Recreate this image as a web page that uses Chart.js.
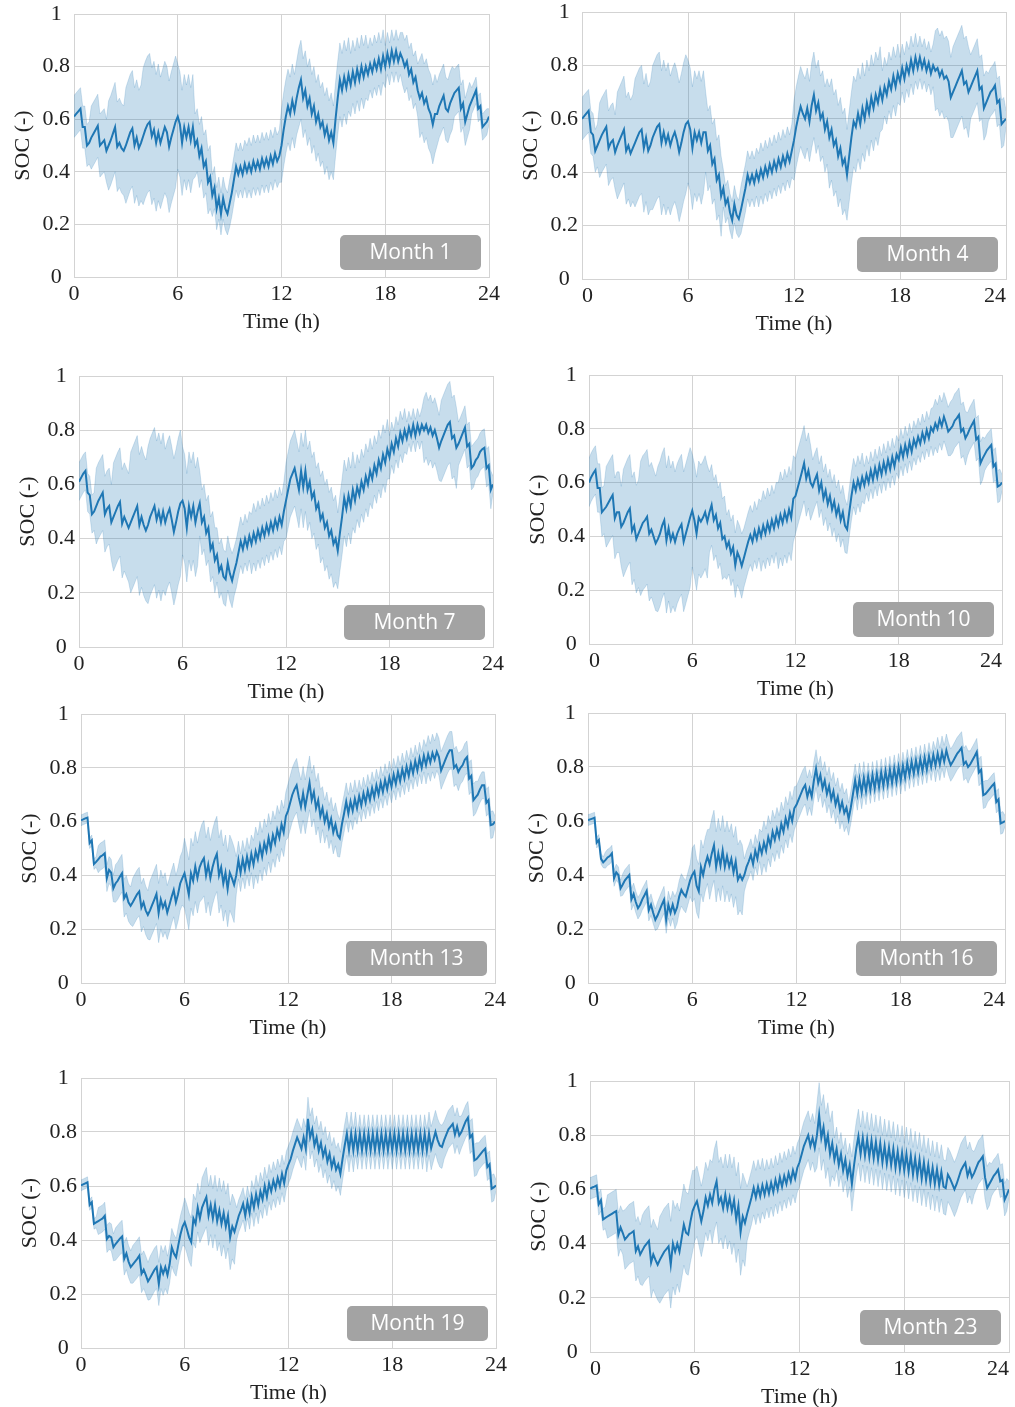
<!DOCTYPE html>
<html>
<head>
<meta charset="utf-8">
<script src="https://cdn.jsdelivr.net/npm/chart.js@4.4.1/dist/chart.umd.min.js"></script>
<style>
  html, body { margin: 0; padding: 0; background: #fff; overflow: hidden; width: 1015px; height: 1407px; }
  canvas { position: absolute; }
</style>
</head>
<body>
<script>
// mean SOC, one value every 1/8 h (8 per row = one hour), last value is 24 h
const socM1 = [
  0.61, 0.62, 0.63, 0.64, 0.57, 0.57, 0.50, 0.51,
  0.53, 0.545, 0.56, 0.575, 0.50, 0.51, 0.52, 0.48,
  0.50, 0.52, 0.545, 0.57, 0.495, 0.51, 0.49, 0.48,
  0.50, 0.525, 0.55, 0.565, 0.50, 0.53, 0.49, 0.51,
  0.535, 0.56, 0.58, 0.59, 0.535, 0.56, 0.51, 0.55,
  0.51, 0.54, 0.57, 0.55, 0.495, 0.53, 0.56, 0.59,
  0.61, 0.58, 0.51, 0.57, 0.53, 0.57, 0.52, 0.57,
  0.50, 0.52, 0.46, 0.49, 0.42, 0.44, 0.36, 0.38,
  0.31, 0.34, 0.26, 0.30, 0.24, 0.30, 0.26, 0.24,
  0.28, 0.32, 0.37, 0.42, 0.39, 0.42, 0.39, 0.43,
  0.40, 0.43, 0.40, 0.44, 0.41, 0.44, 0.41, 0.45,
  0.42, 0.45, 0.42, 0.46, 0.43, 0.47, 0.44, 0.46,
  0.50, 0.56, 0.61, 0.65, 0.62, 0.67, 0.63, 0.68,
  0.72, 0.75, 0.68, 0.71, 0.65, 0.68, 0.62, 0.65,
  0.59, 0.62, 0.57, 0.59, 0.54, 0.57, 0.52, 0.55,
  0.51, 0.60, 0.68, 0.75, 0.71, 0.76, 0.72, 0.77,
  0.73, 0.78, 0.74, 0.79, 0.75, 0.80, 0.76, 0.80,
  0.77, 0.81, 0.78, 0.82, 0.79, 0.83, 0.79, 0.84,
  0.80, 0.85, 0.81, 0.86, 0.82, 0.86, 0.82, 0.85,
  0.83, 0.80, 0.82, 0.77, 0.79, 0.74, 0.76, 0.71,
  0.68, 0.70, 0.66, 0.68, 0.64, 0.62, 0.58, 0.62,
  0.62, 0.65, 0.67, 0.69, 0.64, 0.63, 0.66, 0.68,
  0.70, 0.71, 0.72, 0.64, 0.66, 0.59, 0.62, 0.65,
  0.67, 0.69, 0.71, 0.64, 0.65, 0.57, 0.58, 0.59,
  0.61
];
const socM4 = [
  0.60, 0.61, 0.62, 0.63, 0.55, 0.54, 0.48, 0.50,
  0.52, 0.54, 0.555, 0.57, 0.49, 0.51, 0.52, 0.475,
  0.50, 0.52, 0.54, 0.56, 0.48, 0.50, 0.47, 0.49,
  0.51, 0.53, 0.55, 0.56, 0.49, 0.53, 0.48, 0.50,
  0.53, 0.55, 0.57, 0.58, 0.51, 0.55, 0.51, 0.54,
  0.50, 0.53, 0.55, 0.52, 0.475, 0.51, 0.55, 0.58,
  0.59, 0.56, 0.49, 0.55, 0.52, 0.55, 0.51, 0.55,
  0.55, 0.48, 0.50, 0.43, 0.45, 0.37, 0.39, 0.31,
  0.34, 0.28, 0.30, 0.25, 0.22, 0.28, 0.24, 0.225,
  0.26, 0.30, 0.34, 0.39, 0.36, 0.39, 0.36, 0.40,
  0.37, 0.41, 0.38, 0.42, 0.39, 0.43, 0.40, 0.44,
  0.41, 0.45, 0.42, 0.46, 0.43, 0.47, 0.44, 0.48,
  0.52, 0.57, 0.61, 0.646, 0.62, 0.60, 0.64, 0.59,
  0.65, 0.69, 0.63, 0.66, 0.60, 0.62, 0.56, 0.59,
  0.53, 0.56, 0.50, 0.52, 0.46, 0.49, 0.43, 0.45,
  0.39, 0.46, 0.53, 0.59, 0.57, 0.62, 0.58, 0.64,
  0.60, 0.66, 0.62, 0.68, 0.64, 0.69, 0.66, 0.71,
  0.67, 0.72, 0.69, 0.74, 0.71, 0.76, 0.72, 0.77,
  0.74, 0.79, 0.75, 0.80, 0.77, 0.82, 0.78, 0.83,
  0.79, 0.83, 0.79, 0.82, 0.78, 0.81, 0.77, 0.80,
  0.78, 0.79, 0.76, 0.78, 0.75, 0.76, 0.74, 0.68,
  0.70, 0.72, 0.74, 0.76, 0.78, 0.73, 0.74, 0.70,
  0.72, 0.74, 0.76, 0.78, 0.71, 0.72, 0.64, 0.66,
  0.68, 0.70, 0.71, 0.725, 0.66, 0.67, 0.58, 0.59,
  0.60
];
const socM7 = [
  0.61, 0.625, 0.64, 0.65, 0.57, 0.56, 0.49, 0.50,
  0.52, 0.54, 0.555, 0.57, 0.49, 0.51, 0.52, 0.46,
  0.48, 0.50, 0.52, 0.535, 0.455, 0.48, 0.46, 0.44,
  0.46, 0.48, 0.50, 0.52, 0.45, 0.48, 0.45, 0.43,
  0.45, 0.48, 0.50, 0.52, 0.47, 0.50, 0.46, 0.50,
  0.46, 0.49, 0.51, 0.47, 0.425, 0.46, 0.50, 0.53,
  0.54, 0.51, 0.44, 0.52, 0.48, 0.52, 0.46, 0.50,
  0.53, 0.46, 0.48, 0.42, 0.44, 0.36, 0.38, 0.32,
  0.34, 0.28, 0.30, 0.26, 0.25, 0.31, 0.27, 0.245,
  0.28, 0.31, 0.35, 0.39, 0.36, 0.40, 0.37, 0.41,
  0.38, 0.42, 0.39, 0.43, 0.40, 0.44, 0.41, 0.45,
  0.42, 0.46, 0.43, 0.47, 0.44, 0.48, 0.45, 0.50,
  0.54, 0.58, 0.62, 0.64, 0.66, 0.62, 0.58, 0.65,
  0.59, 0.65, 0.58, 0.61, 0.55, 0.57, 0.51, 0.53,
  0.47, 0.49, 0.44, 0.46, 0.41, 0.43, 0.38, 0.40,
  0.355, 0.42, 0.48, 0.55, 0.51, 0.56, 0.52, 0.58,
  0.54, 0.59, 0.56, 0.61, 0.58, 0.63, 0.60, 0.65,
  0.62, 0.67, 0.64, 0.69, 0.66, 0.71, 0.68, 0.73,
  0.70, 0.75, 0.72, 0.77, 0.74, 0.79, 0.76, 0.80,
  0.77, 0.81, 0.78, 0.82, 0.78, 0.82, 0.79, 0.82,
  0.80, 0.82, 0.79, 0.81, 0.78, 0.80, 0.77, 0.735,
  0.76, 0.78, 0.80, 0.82, 0.83, 0.77, 0.78, 0.735,
  0.75, 0.77, 0.79, 0.81, 0.74, 0.75, 0.66, 0.67,
  0.69, 0.70, 0.72, 0.73, 0.735, 0.66, 0.67, 0.58,
  0.60
];
const socM10 = [
  0.60, 0.62, 0.635, 0.647, 0.58, 0.58, 0.49, 0.50,
  0.51, 0.525, 0.54, 0.554, 0.467, 0.49, 0.49, 0.436,
  0.45, 0.47, 0.49, 0.504, 0.42, 0.44, 0.39, 0.41,
  0.43, 0.45, 0.46, 0.473, 0.41, 0.425, 0.40, 0.374,
  0.39, 0.41, 0.44, 0.46, 0.385, 0.43, 0.385, 0.41,
  0.38, 0.41, 0.43, 0.445, 0.38, 0.41, 0.44, 0.47,
  0.496, 0.46, 0.41, 0.47, 0.455, 0.47, 0.49, 0.455,
  0.49, 0.517, 0.46, 0.48, 0.43, 0.45, 0.39, 0.40,
  0.36, 0.38, 0.337, 0.36, 0.293, 0.34, 0.32, 0.29,
  0.32, 0.35, 0.38, 0.405, 0.38, 0.42, 0.39, 0.43,
  0.40, 0.44, 0.41, 0.45, 0.42, 0.46, 0.43, 0.47,
  0.44, 0.48, 0.45, 0.49, 0.46, 0.50, 0.47, 0.54,
  0.55, 0.58, 0.61, 0.64, 0.672, 0.615, 0.645, 0.60,
  0.585, 0.61, 0.63, 0.57, 0.60, 0.54, 0.57, 0.52,
  0.55, 0.50, 0.53, 0.48, 0.51, 0.46, 0.49, 0.44,
  0.426, 0.49, 0.55, 0.60, 0.57, 0.61, 0.58, 0.62,
  0.59, 0.63, 0.60, 0.645, 0.61, 0.655, 0.62, 0.665,
  0.63, 0.675, 0.64, 0.685, 0.65, 0.695, 0.66, 0.705,
  0.685, 0.73, 0.695, 0.74, 0.705, 0.75, 0.715, 0.76,
  0.735, 0.77, 0.745, 0.785, 0.755, 0.795, 0.765, 0.805,
  0.79, 0.82, 0.80, 0.835, 0.81, 0.845, 0.82, 0.79,
  0.80, 0.81, 0.83, 0.84, 0.852, 0.79, 0.80, 0.765,
  0.78, 0.80, 0.815, 0.83, 0.76, 0.77, 0.672, 0.69,
  0.705, 0.72, 0.73, 0.74, 0.66, 0.67, 0.585, 0.59,
  0.60
];
const socM13 = [
  0.605, 0.608, 0.612, 0.615, 0.52, 0.53, 0.442, 0.45,
  0.46, 0.47, 0.475, 0.482, 0.39, 0.42, 0.41, 0.352,
  0.37, 0.38, 0.395, 0.408, 0.315, 0.33, 0.30, 0.287,
  0.30, 0.315, 0.33, 0.34, 0.28, 0.30, 0.27, 0.253,
  0.27, 0.29, 0.31, 0.331, 0.26, 0.31, 0.28, 0.30,
  0.262, 0.29, 0.32, 0.346, 0.30, 0.33, 0.37, 0.39,
  0.408, 0.37, 0.328, 0.408, 0.38, 0.433, 0.39, 0.43,
  0.45, 0.464, 0.40, 0.44, 0.39, 0.43, 0.46, 0.48,
  0.40, 0.43, 0.37, 0.41, 0.349, 0.41, 0.39, 0.365,
  0.40, 0.457, 0.41, 0.46, 0.42, 0.47, 0.43, 0.48,
  0.44, 0.49, 0.46, 0.51, 0.47, 0.52, 0.49, 0.54,
  0.50, 0.55, 0.52, 0.57, 0.54, 0.59, 0.56, 0.62,
  0.64, 0.67, 0.70, 0.72, 0.735, 0.69, 0.655, 0.705,
  0.655, 0.70, 0.744, 0.68, 0.71, 0.65, 0.68, 0.62,
  0.65, 0.60, 0.63, 0.58, 0.61, 0.56, 0.59, 0.55,
  0.538, 0.59, 0.63, 0.674, 0.63, 0.675, 0.64, 0.685,
  0.65, 0.695, 0.66, 0.705, 0.67, 0.715, 0.68, 0.725,
  0.69, 0.735, 0.70, 0.745, 0.71, 0.755, 0.72, 0.765,
  0.73, 0.775, 0.74, 0.785, 0.75, 0.795, 0.76, 0.805,
  0.77, 0.815, 0.78, 0.825, 0.79, 0.835, 0.80, 0.845,
  0.81, 0.85, 0.82, 0.855, 0.83, 0.86, 0.84, 0.79,
  0.81, 0.83, 0.85, 0.865, 0.865, 0.80, 0.81, 0.785,
  0.80, 0.81, 0.83, 0.84, 0.76, 0.77, 0.68, 0.69,
  0.70, 0.72, 0.735, 0.735, 0.67, 0.68, 0.587, 0.59,
  0.60
];
const socM16 = [
  0.603, 0.606, 0.609, 0.612, 0.52, 0.53, 0.46, 0.447,
  0.455, 0.465, 0.47, 0.48, 0.388, 0.41, 0.40, 0.351,
  0.365, 0.38, 0.39, 0.40, 0.31, 0.33, 0.30, 0.277,
  0.29, 0.31, 0.325, 0.341, 0.27, 0.29, 0.26, 0.234,
  0.25, 0.27, 0.29, 0.308, 0.234, 0.29, 0.26, 0.29,
  0.26, 0.28, 0.32, 0.345, 0.33, 0.32, 0.35, 0.38,
  0.40, 0.413, 0.36, 0.339, 0.43, 0.40, 0.44, 0.468,
  0.44, 0.48, 0.51, 0.43, 0.48, 0.435, 0.49, 0.43,
  0.47, 0.43, 0.46, 0.41, 0.45, 0.382, 0.40, 0.382,
  0.40, 0.43, 0.45, 0.474, 0.44, 0.49, 0.46, 0.51,
  0.48, 0.52, 0.49, 0.54, 0.51, 0.56, 0.53, 0.57,
  0.54, 0.59, 0.56, 0.61, 0.58, 0.63, 0.60, 0.647,
  0.66, 0.68, 0.70, 0.72, 0.733, 0.69, 0.72, 0.69,
  0.75, 0.794, 0.74, 0.77, 0.72, 0.75, 0.70, 0.73,
  0.68, 0.71, 0.66, 0.69, 0.64, 0.67, 0.63, 0.65,
  0.607, 0.65, 0.70, 0.751, 0.70, 0.755, 0.705, 0.76,
  0.71, 0.765, 0.715, 0.77, 0.72, 0.775, 0.725, 0.78,
  0.73, 0.785, 0.735, 0.79, 0.74, 0.795, 0.745, 0.80,
  0.75, 0.805, 0.76, 0.815, 0.77, 0.82, 0.775, 0.825,
  0.78, 0.83, 0.785, 0.835, 0.79, 0.84, 0.80, 0.845,
  0.805, 0.85, 0.81, 0.855, 0.82, 0.862, 0.83, 0.807,
  0.82, 0.835, 0.85, 0.86, 0.871, 0.81, 0.82, 0.80,
  0.81, 0.825, 0.84, 0.856, 0.78, 0.79, 0.696, 0.70,
  0.71, 0.72, 0.73, 0.739, 0.67, 0.68, 0.591, 0.595,
  0.60
];
const socM19 = [
  0.602, 0.606, 0.61, 0.614, 0.53, 0.54, 0.46, 0.465,
  0.47, 0.475, 0.48, 0.49, 0.404, 0.415, 0.41, 0.373,
  0.385, 0.395, 0.405, 0.413, 0.33, 0.35, 0.32, 0.30,
  0.31, 0.32, 0.33, 0.342, 0.275, 0.29, 0.27, 0.247,
  0.26, 0.275, 0.29, 0.30, 0.237, 0.30, 0.275, 0.30,
  0.27, 0.31, 0.373, 0.35, 0.336, 0.38, 0.42, 0.45,
  0.466, 0.44, 0.41, 0.392, 0.48, 0.46, 0.52, 0.48,
  0.52, 0.54, 0.559, 0.49, 0.53, 0.48, 0.53, 0.47,
  0.51, 0.46, 0.50, 0.45, 0.49, 0.41, 0.45, 0.43,
  0.46, 0.49, 0.51, 0.534, 0.49, 0.54, 0.50, 0.56,
  0.52, 0.57, 0.53, 0.58, 0.55, 0.60, 0.56, 0.61,
  0.58, 0.62, 0.59, 0.63, 0.60, 0.645, 0.61, 0.658,
  0.68, 0.70, 0.73, 0.755, 0.78, 0.76, 0.738, 0.78,
  0.738, 0.849, 0.78, 0.81, 0.75, 0.78, 0.73, 0.76,
  0.71, 0.74, 0.69, 0.72, 0.67, 0.70, 0.66, 0.68,
  0.645, 0.70, 0.75, 0.794, 0.732, 0.794, 0.732, 0.794,
  0.732, 0.794, 0.732, 0.794, 0.732, 0.794, 0.732, 0.794,
  0.732, 0.794, 0.732, 0.794, 0.732, 0.794, 0.732, 0.794,
  0.732, 0.794, 0.732, 0.794, 0.732, 0.794, 0.732, 0.794,
  0.732, 0.794, 0.732, 0.794, 0.732, 0.794, 0.732, 0.794,
  0.732, 0.794, 0.74, 0.77, 0.80, 0.77, 0.75, 0.745,
  0.77, 0.79, 0.81, 0.82, 0.83, 0.79, 0.82, 0.787,
  0.80, 0.82, 0.84, 0.853, 0.78, 0.79, 0.695, 0.70,
  0.71, 0.72, 0.73, 0.738, 0.67, 0.68, 0.59, 0.595,
  0.602
];
const socM23 = [
  0.603, 0.607, 0.61, 0.614, 0.545, 0.56, 0.489, 0.495,
  0.50, 0.505, 0.51, 0.515, 0.52, 0.433, 0.46, 0.44,
  0.415, 0.425, 0.435, 0.44, 0.446, 0.372, 0.39, 0.36,
  0.375, 0.39, 0.40, 0.41, 0.33, 0.36, 0.34, 0.322,
  0.34, 0.355, 0.37, 0.38, 0.39, 0.322, 0.40, 0.37,
  0.40, 0.37, 0.42, 0.47, 0.44, 0.433, 0.48, 0.52,
  0.54, 0.556, 0.52, 0.482, 0.52, 0.57, 0.54, 0.58,
  0.55, 0.60, 0.63, 0.55, 0.57, 0.53, 0.58, 0.53,
  0.57, 0.52, 0.56, 0.49, 0.54, 0.443, 0.50, 0.476,
  0.51, 0.54, 0.57, 0.606, 0.57, 0.61, 0.575, 0.615,
  0.58, 0.62, 0.585, 0.625, 0.59, 0.635, 0.60, 0.645,
  0.61, 0.65, 0.62, 0.66, 0.63, 0.67, 0.64, 0.68,
  0.70, 0.73, 0.76, 0.78, 0.80, 0.76, 0.79, 0.753,
  0.80, 0.874, 0.79, 0.83, 0.76, 0.80, 0.73, 0.77,
  0.71, 0.75, 0.69, 0.73, 0.67, 0.71, 0.65, 0.69,
  0.62, 0.69, 0.75, 0.796, 0.73, 0.79, 0.725, 0.785,
  0.72, 0.78, 0.715, 0.775, 0.71, 0.77, 0.70, 0.76,
  0.695, 0.755, 0.69, 0.75, 0.68, 0.74, 0.675, 0.735,
  0.67, 0.73, 0.665, 0.725, 0.655, 0.715, 0.65, 0.71,
  0.64, 0.70, 0.635, 0.69, 0.625, 0.68, 0.62, 0.675,
  0.615, 0.665, 0.61, 0.605, 0.655, 0.64, 0.62, 0.60,
  0.62, 0.645, 0.67, 0.685, 0.698, 0.65, 0.675, 0.645,
  0.66, 0.68, 0.70, 0.71, 0.722, 0.645, 0.605, 0.62,
  0.635, 0.65, 0.66, 0.673, 0.63, 0.635, 0.562, 0.58,
  0.60
];

// half-width of the shaded band, one value per hour (0 ... 24)
const spreadM1  = [0.08, 0.12, 0.17, 0.22, 0.26, 0.25, 0.20, 0.12, 0.08, 0.09, 0.10, 0.10, 0.14, 0.15, 0.15, 0.14, 0.12, 0.10, 0.08, 0.10, 0.15, 0.12, 0.09, 0.05, 0.03];
const spreadM4  = [0.08, 0.14, 0.20, 0.24, 0.27, 0.26, 0.23, 0.15, 0.07, 0.09, 0.10, 0.10, 0.15, 0.16, 0.19, 0.17, 0.16, 0.11, 0.09, 0.08, 0.15, 0.17, 0.12, 0.09, 0.03];
const spreadM7  = [0.07, 0.14, 0.20, 0.26, 0.29, 0.27, 0.20, 0.12, 0.10, 0.09, 0.11, 0.11, 0.14, 0.15, 0.16, 0.14, 0.12, 0.11, 0.08, 0.06, 0.12, 0.15, 0.08, 0.07, 0.03];
const spreadM10 = [0.09, 0.15, 0.20, 0.25, 0.27, 0.26, 0.21, 0.15, 0.12, 0.11, 0.13, 0.16, 0.14, 0.10, 0.10, 0.09, 0.07, 0.07, 0.07, 0.07, 0.09, 0.10, 0.08, 0.06, 0.03];
const spreadM13 = [0.02, 0.05, 0.07, 0.09, 0.11, 0.10, 0.13, 0.14, 0.14, 0.07, 0.09, 0.09, 0.10, 0.10, 0.08, 0.07, 0.06, 0.06, 0.06, 0.06, 0.07, 0.07, 0.06, 0.05, 0.02];
const spreadM16 = [0.02, 0.03, 0.04, 0.04, 0.05, 0.06, 0.10, 0.13, 0.13, 0.06, 0.08, 0.08, 0.07, 0.07, 0.07, 0.06, 0.05, 0.05, 0.05, 0.05, 0.06, 0.06, 0.05, 0.04, 0.02];
const spreadM19 = [0.02, 0.05, 0.06, 0.07, 0.08, 0.07, 0.09, 0.11, 0.12, 0.06, 0.07, 0.07, 0.07, 0.08, 0.08, 0.08, 0.07, 0.07, 0.07, 0.07, 0.08, 0.07, 0.06, 0.05, 0.02];
const spreadM23 = [0.04, 0.08, 0.11, 0.13, 0.16, 0.15, 0.13, 0.15, 0.16, 0.10, 0.09, 0.09, 0.09, 0.12, 0.08, 0.10, 0.10, 0.10, 0.10, 0.10, 0.10, 0.10, 0.08, 0.06, 0.03];

const months = ['Month 1', 'Month 4', 'Month 7', 'Month 10', 'Month 13', 'Month 16', 'Month 19', 'Month 23'];
const socSeries = [socM1, socM4, socM7, socM10, socM13, socM16, socM19, socM23];
const spreadSeries = [spreadM1, spreadM4, spreadM7, spreadM10, spreadM13, spreadM16, spreadM19, spreadM23];
const xTicks = [0, 6, 12, 18, 24];
const yTicks = [0, 0.2, 0.4, 0.6, 0.8, 1];

// sampling grid, 1/8 h
const hours = socM1.map((_, i) => i / 8);

// plot boxes on the page (left, top, right, bottom)
const boxes = [
  [74, 14, 489, 277], [582, 12, 1006, 279],
  [79, 376, 493, 647], [589, 375, 1002, 644],
  [81, 714, 495, 983], [588, 713, 1005, 983],
  [81, 1078, 496, 1348], [590, 1081, 1009, 1352]
];
const AXIS_W = 74, AXIS_H = 62, PAD_T = 18, PAD_R = 18;

const BLUE = '#1f77b4';
const GRID = '#d3d3d3';
Chart.defaults.font.family = '"Liberation Serif", serif';
Chart.defaults.color = '#222';

const monthTag = {
  id: 'monthTag',
  afterDatasetsDraw(chart, args, opts) {
    const { ctx, chartArea: a } = chart;
    const w = 141, h = 35;
    const x = a.right - 8 - w, y = a.bottom - 7 - h;
    ctx.save();
    ctx.fillStyle = '#a3a3a3';
    ctx.beginPath();
    ctx.roundRect(x, y, w, h, 5);
    ctx.fill();
    ctx.fillStyle = '#fff';
    ctx.font = '21px "Open Sans"';
    ctx.textAlign = 'center';
    ctx.textBaseline = 'middle';
    ctx.fillText(opts.text, x + w / 2, y + h / 2 + 1);
    ctx.restore();
  }
};

socSeries.forEach((soc, i) => {
  const [L, T, R, B] = boxes[i];
  const spread = spreadSeries[i];
  const cv = document.createElement('canvas');
  const W = R - L + AXIS_W + PAD_R, H = B - T + PAD_T + AXIS_H;
  cv.width = W; cv.height = H;
  cv.style.left = (L - AXIS_W) + 'px';
  cv.style.top = (T - PAD_T) + 'px';
  cv.style.width = W + 'px'; cv.style.height = H + 'px';
  document.body.appendChild(cv);

  const upper = soc.map((v, k) => ({ x: hours[k], y: v + spread[Math.floor(hours[k])] }));
  const lower = soc.map((v, k) => ({ x: hours[k], y: v - spread[Math.floor(hours[k])] }));
  const mean = soc.map((v, k) => ({ x: hours[k], y: v }));

  new Chart(cv, {
    type: 'line',
    data: {
      datasets: [
        { data: upper, fill: '+1', backgroundColor: 'rgba(31,119,180,0.25)', borderColor: 'rgba(31,119,180,0.18)', borderWidth: 1, pointRadius: 0 },
        { data: lower, fill: false, borderColor: 'rgba(31,119,180,0.18)', borderWidth: 1, pointRadius: 0 },
        { data: mean, fill: false, borderColor: BLUE, borderWidth: 2, pointRadius: 0 }
      ]
    },
    options: {
      responsive: false,
      animation: false,
      devicePixelRatio: 1,
      layout: { padding: { top: PAD_T, right: PAD_R, left: 0, bottom: 0 } },
      plugins: {
        legend: { display: false },
        tooltip: { enabled: false },
        monthTag: { text: months[i] }
      },
      scales: {
        x: {
          type: 'linear', min: 0, max: 24,
          afterFit: s => { s.height = AXIS_H; },
          afterBuildTicks: s => { s.ticks = xTicks.map(v => ({ value: v })); },
          ticks: { font: { size: 22 }, padding: 4, maxRotation: 0, align: i % 2 ? 'inner' : 'center' },
          grid: { color: GRID, drawTicks: false },
          border: { color: GRID },
          title: { display: true, text: 'Time (h)', font: { size: 22 }, padding: { top: 0, bottom: 4 } }
        },
        y: {
          min: 0, max: 1,
          afterFit: s => { s.width = AXIS_W; },
          afterBuildTicks: s => { s.ticks = yTicks.map(v => ({ value: v })); },
          ticks: {
            font: { size: 22 }, padding: 4, crossAlign: 'center',
            callback: v => (v === 0 || v === 1) ? String(v) : v.toFixed(1)
          },
          grid: { color: GRID, drawTicks: false },
          border: { color: GRID },
          title: { display: true, text: 'SOC (-)', font: { size: 22 }, padding: { top: 10, bottom: 0 } }
        }
      }
    },
    plugins: [monthTag]
  });
});
</script>
</body>
</html>
